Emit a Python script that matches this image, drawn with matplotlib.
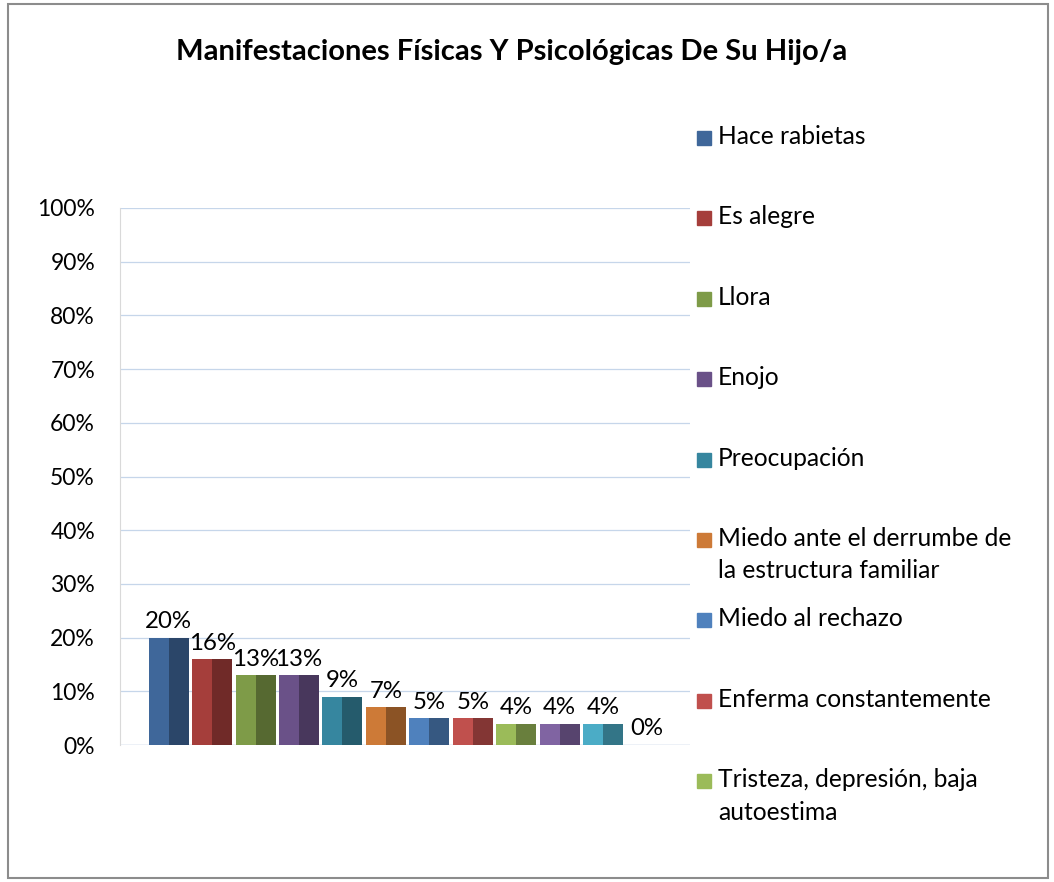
import numpy as np
import matplotlib.pyplot as plt
from matplotlib.patches import Rectangle

# Datos del grafico
valores = [20, 16, 13, 13, 9, 7, 5, 5, 4, 4, 4, 0]
etiquetas = ['20%', '16%', '13%', '13%', '9%', '7%', '5%', '5%', '4%', '4%', '4%', '0%']
# solo las primeras 9 categorias aparecen en la leyenda
categorias = ['Hace rabietas', 'Es alegre', 'Llora', 'Enojo', 'Preocupación',
              'Miedo ante el derrumbe de\nla estructura familiar', 'Miedo al rechazo',
              'Enferma constantemente', 'Tristeza, depresión, baja\nautoestima']
colores = ['#3F679A', '#A53E3B', '#7E9B48', '#6A5188', '#36869F', '#CD7A37',
           '#4F81BD', '#C0504D', '#9BBB59', '#8064A2', '#4BACC6', '#F79646']
ticks = np.arange(0, 101, 10)

plt.rcParams['font.family'] = ['Lato', 'DejaVu Sans']

fig = plt.figure(figsize=(10.54, 8.82), dpi=100)
ax = fig.add_axes([120/1054, 1 - 745/882, 570/1054, 537/882])

def oscurecer(c, f=0.68):
    r, g, b = [int(c[i:i+2], 16) / 255 for i in (1, 3, 5)]
    return (r * f, g * f, b * f)

x = np.arange(len(valores))
w = 0.92
ax.bar(x - w/2, valores, width=w/2, align='edge', color=colores, zorder=3)
ax.bar(x, valores, width=w/2, align='edge', color=[oscurecer(c) for c in colores], zorder=3)

for xi, v, t in zip(x, valores, etiquetas):
    ax.annotate(t, (xi, v), xytext=(0, 4), textcoords='offset points',
                ha='center', va='bottom', fontsize=17.3, color='black')

ax.set_xlim(-1.12, 12.0)
ax.set_ylim(0, 100)
ax.set_yticks(ticks)
ax.set_yticklabels([f'{t}%' for t in ticks], fontsize=16.5)
ax.tick_params(axis='y', length=0, pad=18)
ax.set_xticks([])
ax.yaxis.grid(True, color='#C6D6EA', linewidth=0.9, zorder=0)
for s in ['top', 'right', 'bottom']:
    ax.spines[s].set_visible(False)
ax.spines['left'].set_color('#D9D9D9')
ax.axhline(0, color='#C8D4E3', linewidth=1.0, zorder=2)

fig.text(512/1054, 1 - 52/882, 'Manifestaciones Físicas Y Psicológicas De Su Hijo/a',
         ha='center', va='center', fontsize=21, fontweight='bold')

# leyenda
for i, cat in enumerate(categorias):
    y = 138 + i * 80.4
    fig.patches.append(Rectangle((697/1054, 1 - (y + 7)/882), 14/1054, 14/882,
                                 transform=fig.transFigure, color=colores[i]))
    fig.text(718/1054, 1 - (y - 13)/882, cat, ha='left', va='top',
             fontsize=17.7, linespacing=1.5)

fig.patches.append(Rectangle((8/1054, 4/882), 1040/1054, 874/882, transform=fig.transFigure,
                             fill=False, edgecolor='#8C8C8C', linewidth=1.5))

fig.savefig('out.png', dpi=100)
